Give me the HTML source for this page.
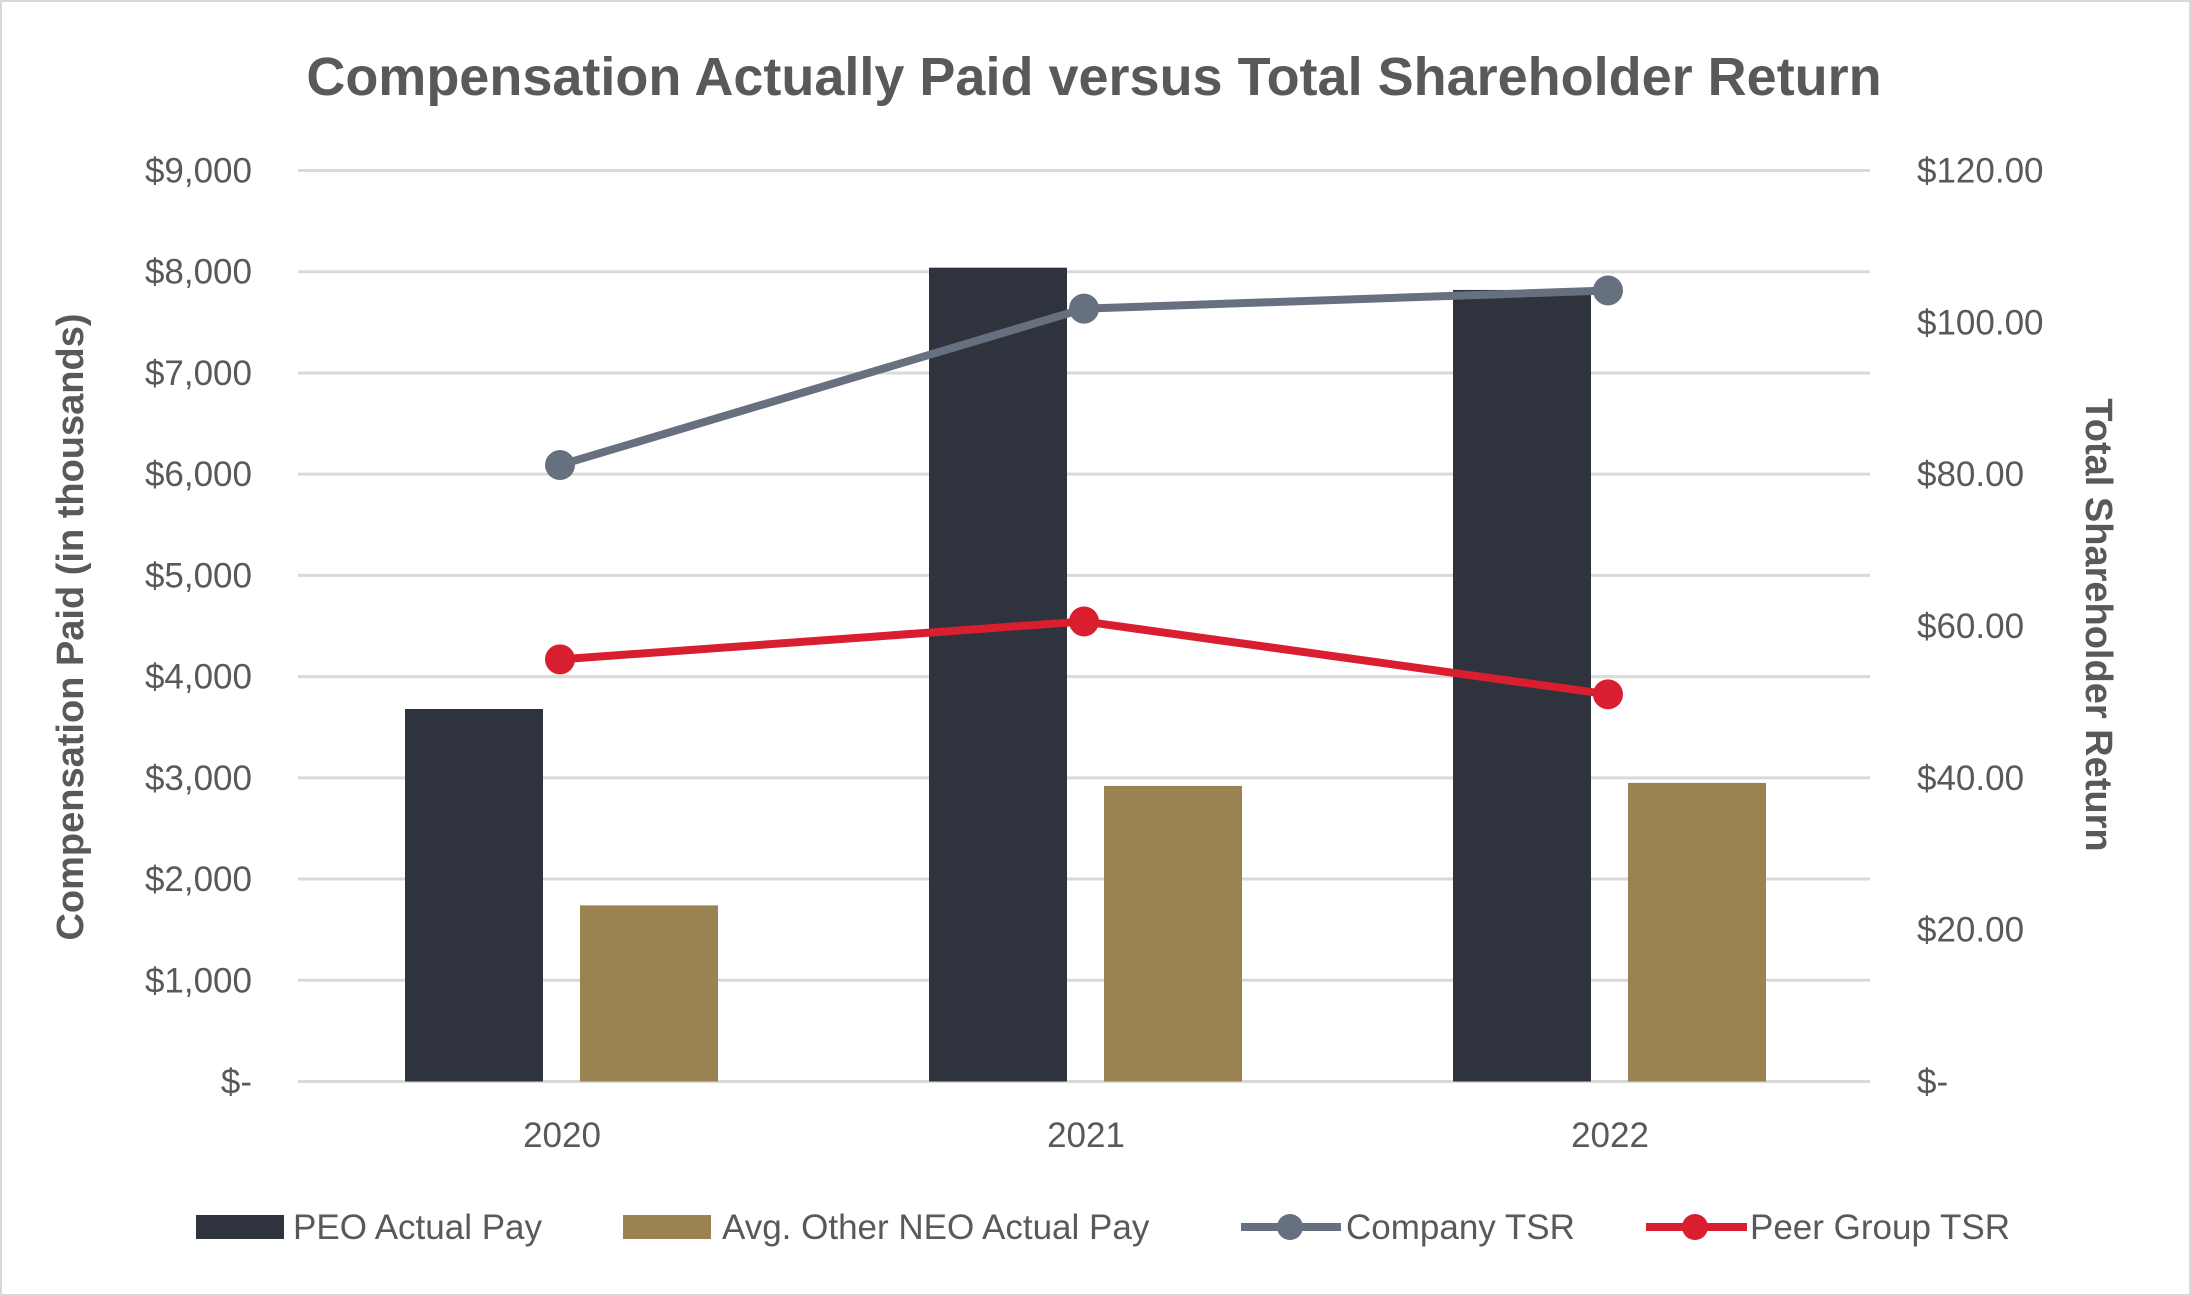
<!DOCTYPE html>
<html><head><meta charset="utf-8"><style>
html,body{margin:0;padding:0;background:#fff;}
svg{display:block;font-family:"Liberation Sans",sans-serif;}
</style></head><body>
<svg id="chart" width="2191" height="1296" viewBox="0 0 2191 1296">
<rect x="1" y="1" width="2189" height="1294" fill="#fff" stroke="#d9d9d9" stroke-width="2"/>
<text x="1094" y="95" text-anchor="middle" font-size="54" font-weight="bold" fill="#595959">Compensation Actually Paid versus Total Shareholder Return</text>
<g id="grid"></g><g id="bars"></g><g id="lines"></g><g id="ticks"></g>
<text transform="translate(83,627) rotate(-90)" text-anchor="middle" font-size="38" font-weight="bold" fill="#595959">Compensation Paid (in thousands)</text>
<text transform="translate(2086,625) rotate(90)" text-anchor="middle" font-size="38" font-weight="bold" fill="#595959">Total Shareholder Return</text>
<g>
<rect x="196" y="1215" width="88" height="24" fill="#2e333d"/>
<text x="293" y="1239" font-size="35" fill="#595959">PEO Actual Pay</text>
<rect x="623" y="1215" width="88" height="24" fill="#9a8350"/>
<text x="722" y="1239" font-size="35" fill="#595959">Avg. Other NEO Actual Pay</text>
<line x1="1241" y1="1227" x2="1341" y2="1227" stroke="#67707f" stroke-width="8"/>
<circle cx="1290" cy="1227" r="13" fill="#67707f"/>
<text x="1346" y="1239" font-size="35" fill="#595959">Company TSR</text>
<line x1="1646" y1="1227" x2="1747" y2="1227" stroke="#d81e2f" stroke-width="8"/>
<circle cx="1695" cy="1227" r="13" fill="#d81e2f"/>
<text x="1750" y="1239" font-size="35" fill="#595959">Peer Group TSR</text>
</g>
</svg>
<script>
const categories = ["2020","2021","2022"];
const peoPay = [3680, 8040, 7820];
const neoPay = [1740, 2920, 2950];
const companyTSR = [81.2, 101.8, 104.2];
const peerTSR = [55.6, 60.6, 51.0];
const leftTicks = [0,1000,2000,3000,4000,5000,6000,7000,8000,9000];
const leftTickLabels = ["$-","$1,000","$2,000","$3,000","$4,000","$5,000","$6,000","$7,000","$8,000","$9,000"];
const rightTicks = [0,20,40,60,80,100,120];
const rightTickLabels = ["$-","$20.00","$40.00","$60.00","$80.00","$100.00","$120.00"];

const NS="http://www.w3.org/2000/svg";
const L=298,R=1870,T=170.5,B=1081.5;
const yL=v=>B-(v/9000)*(B-T);
const yR=v=>B-(v/120)*(B-T);
const bw=(R-L)/categories.length;
const xC=i=>L+bw*(i+0.5);
function mk(tag,attrs,parent){const e=document.createElementNS(NS,tag);for(const k in attrs)e.setAttribute(k,attrs[k]);parent.appendChild(e);return e;}
const grid=document.getElementById('grid'),bars=document.getElementById('bars'),lines=document.getElementById('lines'),ticks=document.getElementById('ticks');
leftTicks.forEach((v,i)=>{
  const g=mk('line',{x1:L,x2:R,y1:yL(v),y2:yL(v),stroke:'#d9d9d9','stroke-width':3},grid);
  
  
  const t=mk('text',{x:252,y:yL(v)+12,'text-anchor':'end','font-size':35,fill:'#595959'},ticks);
  t.textContent=leftTickLabels[i];
  
  
});
rightTicks.forEach((v,i)=>{
  const t=mk('text',{x:1917,y:yR(v)+12,'font-size':35,fill:'#595959'},ticks);
  t.textContent=rightTickLabels[i];
  
  
});
const barW=138;
categories.forEach((c,i)=>{
  const x=xC(i);
  const b1=mk('rect',{x:x-barW-17,y:yL(peoPay[i]),width:barW,height:B-yL(peoPay[i]),fill:'#2e333d'},bars);
  
  
  const b2=mk('rect',{x:x+20,y:yL(neoPay[i]),width:barW,height:B-yL(neoPay[i]),fill:'#9a8350'},bars);
  
  
  const t=mk('text',{x:x+2,y:1147,'text-anchor':'middle','font-size':35,fill:'#595959'},ticks);
  t.textContent=c;
  
  
});
function series(vals,color,name){
  const p=mk('polyline',{points:vals.map((v,i)=>xC(i)+','+yR(v)).join(' '),fill:'none',stroke:color,'stroke-width':8,'stroke-linejoin':'round'},lines);
  
  
  vals.forEach((v,i)=>{
    const c=mk('circle',{cx:xC(i),cy:yR(v),r:15,fill:color},lines);
    
    
  });
}
series(companyTSR,'#67707f','company-tsr');
series(peerTSR,'#d81e2f','peer-tsr');
</script>
</body></html>
